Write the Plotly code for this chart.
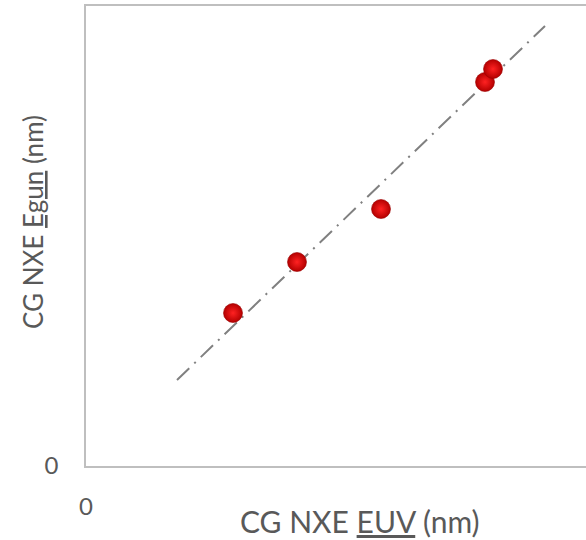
import plotly.graph_objects as go

# Data (arbitrary units with origin at 0)
euv = [14.7, 21.1, 29.5, 39.9, 40.7]
egun = [15.3, 20.4, 25.7, 38.4, 39.7]
fit_x = [9.1, 45.9]
fit_y = [8.6, 44.0]
x_ticks = [0]
y_ticks = [0]
x_title = 'CG NXE <span style="text-decoration:underline">EUV</span> (nm)'
y_title = 'CG NXE <span style="text-decoration:underline">Egun</span> (nm)'

FONT = "Lato, 'Open Sans', sans-serif"
TXT = "#595959"

fig = go.Figure()
fig.add_trace(go.Scatter(
    x=fit_x, y=fit_y, mode="lines",
    line=dict(color="#808080", width=2, dash="17px,7px,2px,7px"),
    hoverinfo="skip", showlegend=False,
))
fig.add_trace(go.Scatter(
    x=euv, y=egun, mode="markers",
    marker=dict(size=19, color="#b40000",
                gradient=dict(type="radial", color="#ff2222"),
                line=dict(color="#9a0000", width=0.6)),
    showlegend=False,
))

fig.update_layout(
    width=586, height=540,
    margin=dict(l=86, r=0, t=6, b=74, autoexpand=False),
    paper_bgcolor="white", plot_bgcolor="white",
    font=dict(family=FONT, color=TXT),
    xaxis=dict(
        range=[0, 50], autorange=False, automargin=False,
        tickvals=x_ticks, ticktext=["0"],
        showgrid=False, zeroline=False, ticks="",
        showline=True, linecolor="#bfbfbf", linewidth=1.5, mirror=True,
        tickfont=dict(size=24, color=TXT, family=FONT),
        ticklabelstandoff=18,
    ),
    yaxis=dict(
        range=[0, 46], autorange=False, automargin=False,
        tickvals=y_ticks, ticktext=["0"],
        showgrid=False, zeroline=False, ticks="",
        showline=True, linecolor="#bfbfbf", linewidth=1.5, mirror=False,
        tickfont=dict(size=24, color=TXT, family=FONT),
        ticklabelstandoff=21,
    ),
    annotations=[
        dict(text=x_title, xref="paper", yref="paper",
             x=(360 - 86) / 500, y=-(521 - 466) / 460,
             xanchor="center", yanchor="middle", showarrow=False,
             font=dict(size=30, color=TXT, family=FONT)),
        dict(text=y_title, xref="paper", yref="paper",
             x=-(86 - 33) / 500, y=(466 - 222) / 460,
             xanchor="center", yanchor="middle", showarrow=False, textangle=-90,
             font=dict(size=26, color=TXT, family=FONT)),
    ],
)

fig.write_html("out.html")
